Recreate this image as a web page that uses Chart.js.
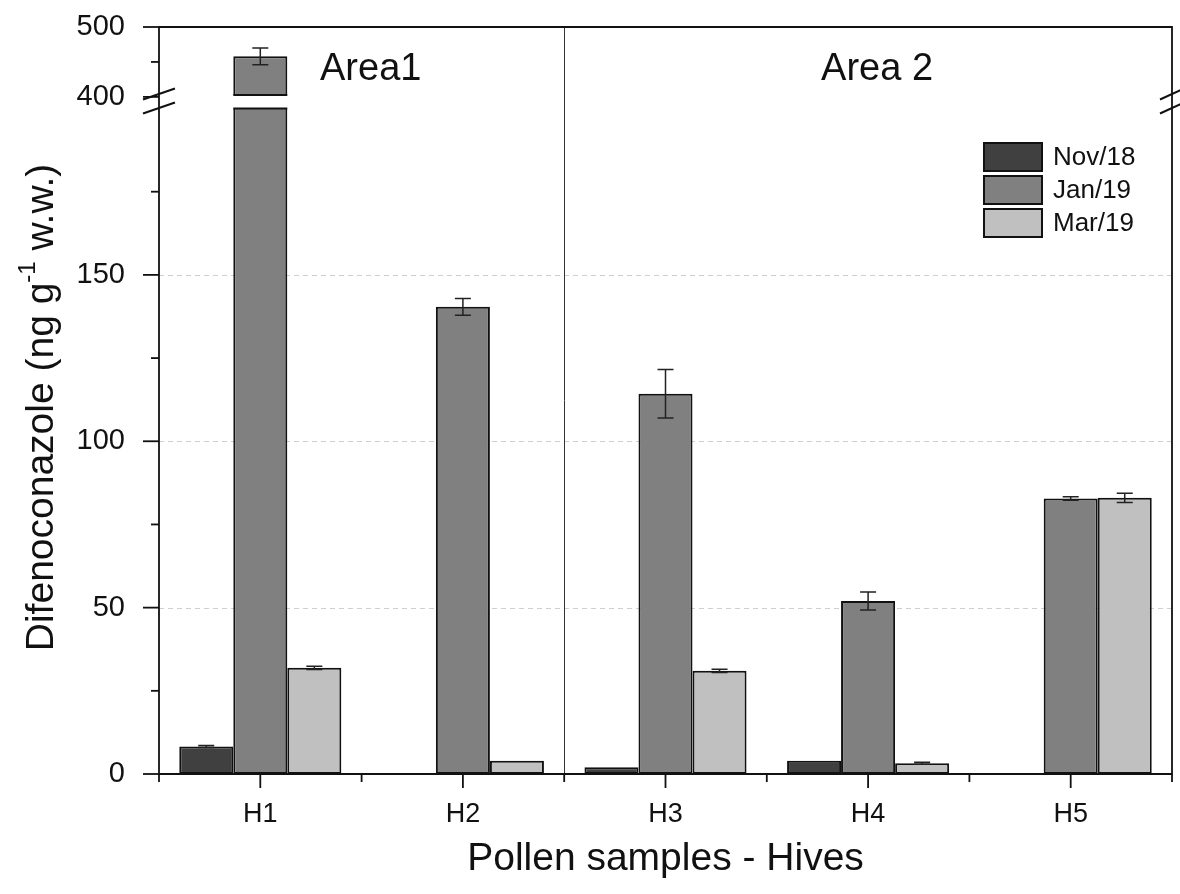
<!DOCTYPE html>
<html>
<head>
<meta charset="utf-8">
<title>Difenoconazole in pollen</title>
<script src="https://cdn.jsdelivr.net/npm/chart.js@4.4.0/dist/chart.umd.min.js"></script>
<style>
  html, body { margin: 0; padding: 0; background: #fff; }
  #wrap { width: 1180px; height: 894px; position: relative; }
</style>
</head>
<body>
<div id="wrap"><canvas id="pollenChart"></canvas></div>
<script>
// values (ng g-1 w.w.), null = not detected
const hives = ['H1', 'H2', 'H3', 'H4', 'H5'];
const nov18 = [8.3, null, 2.0, 4.0, null];
const nov18Err = [0.3, 0, 0, 0, 0];
const jan19 = [458, 140.4, 114.3, 52.0, 82.8];
const jan19Err = [12, 2.5, 7.3, 2.7, 0.5];
const mar19 = [31.9, 4.0, 31.0, 3.2, 83.0];
const mar19Err = [0.5, 0, 0.5, 0.3, 1.4];

// y axis ticks (the axis is broken between 200 and 400)
const yMajorTicks = [0, 50, 100, 150, 400, 500];
const yMinorTicks = [25, 75, 125, 175, 450];
const yGridTicks = [50, 100, 150];

const FONT = "'Liberation Sans', Arial, sans-serif";
const INK = '#111';

// break: lower part 0-200 as is, upper part 400-500 squeezed above it
const LOW_TOP = 200;
const HIGH_START = 203.5;
const HIGH_FACTOR = 0.21;
function disp(v) {
    if (v === null) return null;
    if (v <= LOW_TOP) return v;
    return HIGH_START + (v - 400) * HIGH_FACTOR;
}
const Y_MAX = disp(500);

const errors = [nov18Err, jan19Err, mar19Err];
const rawValues = [nov18, jan19, mar19];

// Plugin drawing grid, axes, break, error bars, legend and labels
const decorPlugin = {
    id: 'decor',
    beforeDatasetsDraw(chart) {
        const { ctx, chartArea } = chart;
        const y = chart.scales.y;
        ctx.save();
        ctx.strokeStyle = '#cfcfcf';
        ctx.lineWidth = 1;
        ctx.setLineDash([5, 4]);
        yGridTicks.forEach(v => {
            const py = Math.round(y.getPixelForValue(disp(v))) + 0.5;
            ctx.beginPath();
            ctx.moveTo(chartArea.left, py);
            ctx.lineTo(chartArea.right, py);
            ctx.stroke();
        });
        ctx.restore();
    },
    afterDatasetsDraw(chart) {
        const { ctx, chartArea } = chart;
        const x = chart.scales.x;
        const y = chart.scales.y;
        const L = chartArea.left, R = chartArea.right, T = chartArea.top, B = chartArea.bottom;
        ctx.save();

        // white gap across bars that pass the break
        const gapLow = y.getPixelForValue(LOW_TOP);
        const gapHigh = y.getPixelForValue(HIGH_START + 0.6);
        chart.data.datasets.forEach((ds, i) => {
            chart.getDatasetMeta(i).data.forEach((bar, j) => {
                if (rawValues[i][j] !== null && rawValues[i][j] > LOW_TOP) {
                    const hw = bar.width / 2;
                    ctx.fillStyle = '#fff';
                    ctx.fillRect(bar.x - hw - 2, gapHigh, bar.width + 4, gapLow - gapHigh);
                    ctx.strokeStyle = INK;
                    ctx.lineWidth = 2;
                    ctx.beginPath();
                    ctx.moveTo(bar.x - hw, gapHigh); ctx.lineTo(bar.x + hw, gapHigh);
                    ctx.moveTo(bar.x - hw, gapLow); ctx.lineTo(bar.x + hw, gapLow);
                    ctx.stroke();
                }
            });
        });

        // error bars
        ctx.strokeStyle = '#222';
        ctx.lineWidth = 1.5;
        chart.data.datasets.forEach((ds, i) => {
            chart.getDatasetMeta(i).data.forEach((bar, j) => {
                const v = rawValues[i][j];
                const e = errors[i][j];
                if (v === null || !e) return;
                const top = y.getPixelForValue(disp(v + e));
                const bot = y.getPixelForValue(disp(v - e));
                ctx.beginPath();
                ctx.moveTo(bar.x, top); ctx.lineTo(bar.x, bot);
                ctx.moveTo(bar.x - 8, top); ctx.lineTo(bar.x + 8, top);
                ctx.moveTo(bar.x - 8, bot); ctx.lineTo(bar.x + 8, bot);
                ctx.stroke();
            });
        });

        // area separator between H2 and H3
        const sep = (x.getPixelForValue(1) + x.getPixelForValue(2)) / 2;
        ctx.strokeStyle = '#333';
        ctx.lineWidth = 1;
        ctx.beginPath();
        ctx.moveTo(Math.round(sep) + 0.5, T);
        ctx.lineTo(Math.round(sep) + 0.5, B);
        ctx.stroke();

        // axis lines and frame
        ctx.strokeStyle = INK;
        ctx.lineWidth = 1.8;
        ctx.beginPath();
        ctx.moveTo(L, B); ctx.lineTo(L, T); ctx.lineTo(R, T); ctx.lineTo(R, B); ctx.lineTo(L, B);
        ctx.stroke();

        // y ticks
        yMajorTicks.forEach(v => {
            const py = y.getPixelForValue(disp(v));
            ctx.beginPath(); ctx.moveTo(L - 16, py); ctx.lineTo(L, py); ctx.stroke();
        });
        yMinorTicks.forEach(v => {
            const py = y.getPixelForValue(disp(v));
            ctx.beginPath(); ctx.moveTo(L - 8, py); ctx.lineTo(L, py); ctx.stroke();
        });

        // x ticks: major at hives, minor at boundaries
        const step = x.getPixelForValue(1) - x.getPixelForValue(0);
        hives.forEach((h, j) => {
            const px = x.getPixelForValue(j);
            ctx.beginPath(); ctx.moveTo(px, B); ctx.lineTo(px, B + 14); ctx.stroke();
            const bx = px - step / 2;
            ctx.beginPath(); ctx.moveTo(bx, B); ctx.lineTo(bx, B + 8); ctx.stroke();
        });
        ctx.beginPath(); ctx.moveTo(R, B); ctx.lineTo(R, B + 8); ctx.stroke();

        // break marks on both vertical axes
        ctx.lineWidth = 2;
        [L, R].forEach(ax => {
            const half = ax === L ? 16 : 12;
            [gapLow - 14, gapLow].forEach(cy => {
                ctx.beginPath();
                ctx.moveTo(ax - half, cy + 5);
                ctx.lineTo(ax + half, cy - 6);
                ctx.stroke();
            });
        });

        // legend
        const labels = chart.data.datasets.map(d => d.label);
        const colors = chart.data.datasets.map(d => d.backgroundColor);
        const lx = R - 188, ly = T + 116;
        ctx.font = '26px ' + FONT;
        ctx.textBaseline = 'middle';
        ctx.textAlign = 'left';
        labels.forEach((lab, i) => {
            const by = ly + i * 33;
            ctx.fillStyle = colors[i];
            ctx.fillRect(lx, by, 58, 28);
            ctx.strokeStyle = INK;
            ctx.lineWidth = 2;
            ctx.strokeRect(lx, by, 58, 28);
            ctx.fillStyle = INK;
            ctx.fillText(lab, lx + 69, by + 15);
        });

        // area names
        ctx.font = '38px ' + FONT;
        ctx.textBaseline = 'alphabetic';
        ctx.textAlign = 'left';
        ctx.fillText('Area1', L + 161, T + 53);
        ctx.textAlign = 'center';
        ctx.fillText('Area 2', x.getPixelForValue(3) + 9, T + 53);

        // x title
        ctx.font = '39px ' + FONT;
        ctx.textBaseline = 'middle';
        ctx.fillText('Pollen samples - Hives', (L + R) / 2, 859);

        // y title with superscript
        ctx.translate(42, (T + B) / 2 + 7);
        ctx.rotate(-Math.PI / 2);
        const parts = [
            { t: 'Difenoconazole (ng g', f: '39px ' + FONT, dy: 0 },
            { t: '-1', f: '24px ' + FONT, dy: -14 },
            { t: ' w.w.)', f: '39px ' + FONT, dy: 0 }
        ];
        let total = 0;
        parts.forEach(p => { ctx.font = p.f; p.w = ctx.measureText(p.t).width; total += p.w; });
        let cx = -total / 2;
        ctx.textAlign = 'left';
        parts.forEach(p => {
            ctx.font = p.f;
            ctx.fillText(p.t, cx, p.dy);
            cx += p.w;
        });
        ctx.restore();
    }
};

const ctx = document.getElementById('pollenChart').getContext('2d');
const pollenChart = new Chart(ctx, {
    type: 'bar',
    data: {
        labels: hives,
        datasets: [
            {
                label: 'Nov/18',
                data: nov18.map(disp),
                backgroundColor: '#404040',
                borderColor: INK,
                borderWidth: 2
            },
            {
                label: 'Jan/19',
                data: jan19.map(disp),
                backgroundColor: '#808080',
                borderColor: INK,
                borderWidth: 2
            },
            {
                label: 'Mar/19',
                data: mar19.map(disp),
                backgroundColor: '#c0c0c0',
                borderColor: INK,
                borderWidth: 2
            }
        ]
    },
    options: {
        responsive: true,
        maintainAspectRatio: false,
        animation: false,
        devicePixelRatio: 1,
        layout: { padding: { top: 27, right: 8, left: 0, bottom: 0 } },
        datasets: {
            bar: { categoryPercentage: 0.8, barPercentage: 1.0, borderSkipped: false }
        },
        plugins: {
            legend: { display: false },
            tooltip: { enabled: false }
        },
        scales: {
            x: {
                grid: { display: false },
                border: { display: false },
                ticks: {
                    color: INK,
                    padding: 16,
                    font: { family: FONT, size: 27 }
                },
                afterFit(scale) {
                    scale.height = 120;
                    scale.paddingLeft = 0;
                    scale.paddingRight = 0;
                }
            },
            y: {
                min: 0,
                max: Y_MAX,
                grid: { display: false },
                border: { display: false },
                afterBuildTicks(scale) {
                    scale.ticks = yMajorTicks.map(v => ({ value: disp(v) }));
                },
                ticks: {
                    color: INK,
                    padding: 26,
                    font: { family: FONT, size: 29 },
                    callback: function(value, index) {
                        return String(yMajorTicks[index]);
                    }
                },
                afterFit(scale) {
                    scale.width = 159;
                    scale.paddingTop = 0;
                    scale.paddingBottom = 0;
                }
            }
        }
    },
    plugins: [decorPlugin]
});
</script>
</body>
</html>
